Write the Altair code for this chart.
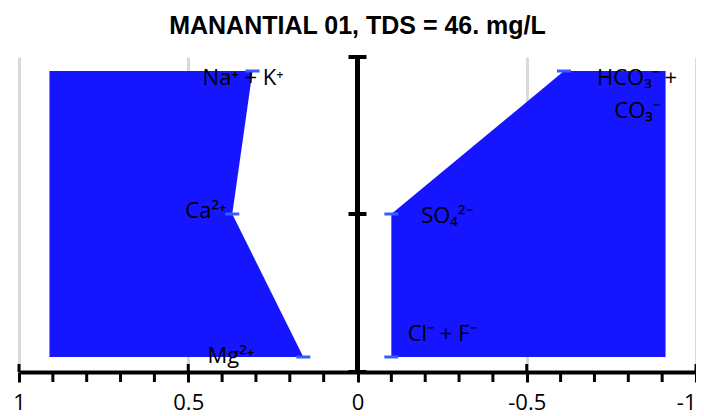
import altair as alt
import pandas as pd

# ---- data -------------------------------------------------------------
rows = [3, 2, 1]                          # top, middle, bottom row
cation_names = ["Na+K", "Ca", "Mg"]
cation_values = [0.31, 0.37, 0.16]        # meq/L (plotted to the left)
anion_names = ["HCO3+CO3", "SO4", "Cl+F"]
anion_values = [-0.61, -0.10, -0.10]      # meq/L (plotted to the right)
fill_edge = [0.91, -0.91]                 # outer edge of the filled polygons

label_text = ["Na⁺ + K⁺", "Ca²⁺", "Mg²⁺", "HCO₃⁻ +", "CO₃⁻", "SO₄²⁻", "Cl⁻ + F⁻"]
label_x = [0.338, 0.448, 0.374, -0.826, -0.826, -0.264, -0.25]
label_y = [2.902, 1.972, 0.958, 2.902, 2.671, 1.937, 1.112]

major_ticks = [1, 0.5, 0, -0.5, -1]
minor_ticks = [0.9, 0.8, 0.7, 0.6, 0.4, 0.3, 0.2, 0.1,
               -0.1, -0.2, -0.3, -0.4, -0.6, -0.7, -0.8, -0.9]
y_domain = [0.895, 3.098]
center_ticks = [3.098, 2, 0.895]

TITLE = "MANANTIAL 01, TDS = 46. mg/L"

# ---- tables ------------------------------------------------------------
left_df = pd.DataFrame({"y": rows, "x": cation_values, "x2": [fill_edge[0]] * 3})
right_df = pd.DataFrame({"y": rows, "x": anion_values, "x2": [fill_edge[1]] * 3})
pts_df = pd.DataFrame({"y": rows + rows, "x": cation_values + anion_values})
lab_df = pd.DataFrame({"x": label_x, "y": label_y, "t": label_text})
center_df = pd.DataFrame({"x": [0], "y": [y_domain[1]], "y2": [y_domain[0]]})
cticks_df = pd.DataFrame({"x": [0] * 3, "y": center_ticks})
major_df = pd.DataFrame({"x": major_ticks})
minor_df = pd.DataFrame({"x": minor_ticks})

W, H = 677, 315
FONT = "Open Sans"
BLUE = "#1515ff"

xscale = alt.Scale(domain=[-1, 1], reverse=True, nice=False, zero=False)
yscale = alt.Scale(domain=y_domain, nice=False, zero=False)
xaxis = alt.Axis(
    values=major_ticks, title=None, grid=True, gridColor="#d9d9d9", gridWidth=3,
    domainColor="black", domainWidth=4, tickColor="black", tickWidth=3, tickSize=10,
    labelFont=FONT, labelFontSize=22, labelColor="black", labelPadding=10,
    labelExpr="'' + datum.value",
    labelAlign={"condition": {"test": "datum.value == -1", "value": "right"},
                "value": "center"},
)
X = alt.X("x:Q", scale=xscale, axis=xaxis)
Y = alt.Y("y:Q", scale=yscale, axis=None)

area_left = alt.Chart(left_df).mark_area(orient="horizontal", color=BLUE, opacity=1).encode(
    y=Y, x=alt.X("x:Q", scale=xscale, axis=xaxis, stack=None), x2="x2:Q")
area_right = alt.Chart(right_df).mark_area(orient="horizontal", color=BLUE, opacity=1).encode(
    y=Y, x=alt.X("x:Q", scale=xscale, axis=xaxis, stack=None), x2="x2:Q")

markers = alt.Chart(pts_df).mark_tick(orient="horizontal", size=14, thickness=3,
                                      color="#3a5cff", opacity=1).encode(x=X, y=Y)

labels = alt.Chart(lab_df).mark_text(font=FONT, fontSize=22, color="black",
                                     align="center", baseline="alphabetic").encode(
    x=X, y=Y, text="t:N")

center_line = alt.Chart(center_df).mark_rule(color="black", strokeWidth=5).encode(
    x=X, y=Y, y2="y2:Q")
center_tk = alt.Chart(cticks_df).mark_tick(orient="horizontal", size=18, thickness=4,
                                           color="black", opacity=1).encode(x=X, y=Y)

major_up = alt.Chart(major_df).mark_rule(color="black", strokeWidth=3).encode(
    x=X, y=alt.value(H - 8), y2=alt.value(H))
minor = alt.Chart(minor_df).mark_rule(color="black", strokeWidth=3).encode(
    x=X, y=alt.value(H), y2=alt.value(H + 10))

chart = alt.layer(
    area_left, area_right, markers, labels, center_line, center_tk, major_up, minor
).properties(
    width=W, height=H,
    title=alt.TitleParams(TITLE, font="Liberation Sans", fontSize=25, fontWeight="bold",
                          color="black", anchor="middle", offset=16),
    autosize="none",
    padding={"left": 11, "top": 49, "right": 0, "bottom": 44},
).configure_view(strokeWidth=0)

chart.save("out.html", embed_options={"renderer": "svg", "actions": False})
